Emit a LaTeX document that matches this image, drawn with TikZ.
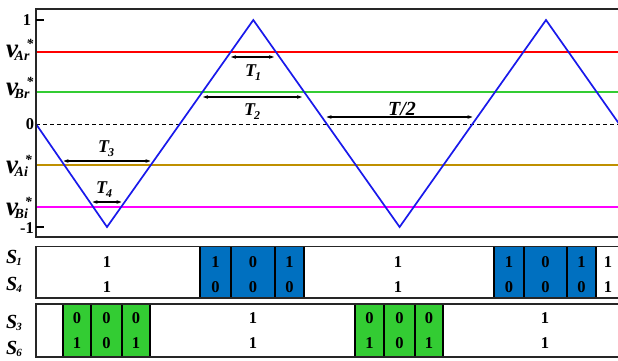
\documentclass[tikz,border=0pt]{standalone}
\usepackage{fontspec}
\setmainfont{Liberation Serif}
\usetikzlibrary{arrows.meta}

\definecolor{carrier}{RGB}{25,25,235}
\definecolor{refAr}{RGB}{255,0,0}
\definecolor{refBr}{RGB}{51,204,51}
\definecolor{refAi}{RGB}{191,144,0}
\definecolor{refBi}{RGB}{255,0,255}
\definecolor{cellblue}{RGB}{0,112,192}
\definecolor{cellgreen}{RGB}{51,204,51}

\newcommand{\vlab}[1]{{\fontsize{27}{27}\selectfont v}\kern-3.5pt\raisebox{-3pt}{\fontsize{14}{14}\selectfont #1}\kern-3pt\raisebox{8.5pt}{\fontsize{14}{14}\selectfont *}}
\newcommand{\slab}[1]{{\fontsize{20}{20}\selectfont S}\kern-1pt\raisebox{-2pt}{\fontsize{11}{11}\selectfont #1}}
\newcommand{\tlab}[1]{{\fontsize{18}{18}\selectfont T}\kern-1pt\raisebox{-4pt}{\fontsize{12}{12}\selectfont #1}}

\begin{document}
\begin{tikzpicture}[x=1pt,y=-1pt,
    lvl/.style={line width=1.7pt},
    dim/.style={{Stealth[length=5pt,width=3.6pt]}-{Stealth[length=5pt,width=3.6pt]},line width=1.1pt},
    digit/.style={inner sep=0pt,font=\fontsize{16.5}{16.5}\selectfont\bfseries},
    lab/.style={inner sep=0pt,anchor=base west,font=\bfseries\itshape},
    frame/.style={draw=black!85,line width=1.5pt},
    cellA/.style={draw=black,line width=1.1pt,fill=cellblue},
    cellB/.style={draw=black,line width=1.1pt,fill=cellgreen}]
    \clip (0,0) rectangle (618,361);
    \fill[white] (0,0) rectangle (618,361);
    % carrier and references
    \draw[lvl,refAr] (36,52) -- (622,52);
    \draw[lvl,refBr] (36,92) -- (622,92);
    \draw[lvl,refAi] (36,165) -- (622,165);
    \draw[lvl,refBi] (36,207) -- (622,207);
    \draw[line width=1pt,dash pattern=on 4pt off 3pt] (36,124) -- (622,124);
    \draw[lvl,carrier,line join=miter] (36,124) -- (107,227) -- (253.3,20) -- (399.6,227) -- (546,20) -- (619.2,124);
    \draw[frame] (36,9) rectangle (622,237);
    \draw[line width=1.3pt] (36,20) -- (44,20);
    \draw[line width=1.3pt] (36,227) -- (44,227);
    \node[digit] (ax1) at (27,20) {1};
    \node[digit] (ax0) at (30,124) {0};
    \node[digit,anchor=east] (axm1) at (34,228) {-1};
    \node[lab] (vAr) at (6,57) {\vlab{Ar}};
    \node[lab] (vBr) at (6,95) {\vlab{Br}};
    \node[lab] (vAi) at (6,173) {\vlab{Ai}};
    \node[lab] (vBi) at (6,215) {\vlab{Bi}};
    % time intervals
    \coordinate (t1a) at (231,57);
    \coordinate (t1b) at (274,57);
    \coordinate (t2a) at (203,97);
    \coordinate (t2b) at (302,97);
    \coordinate (t3a) at (63.5,161);
    \coordinate (t3b) at (150.5,161);
    \coordinate (t4a) at (92.5,202);
    \coordinate (t4b) at (121.5,202);
    \coordinate (tha) at (326.5,117);
    \coordinate (thb) at (472.5,117);
    \draw[dim] (t1a) -- (t1b);
    \draw[dim] (t2a) -- (t2b);
    \draw[dim] (t3a) -- (t3b);
    \draw[dim] (t4a) -- (t4b);
    \draw[dim] (tha) -- (thb);
    \node[lab] (T1) at (245,77) {\tlab{1}};
    \node[lab] (T2) at (244,115) {\tlab{2}};
    \node[lab] (T3) at (98,152) {\tlab{3}};
    \node[lab] (T4) at (96,193) {\tlab{4}};
    \node[lab,font=\fontsize{20}{20}\selectfont\bfseries\itshape] (Thalf) at (388,115) {T/2};
    % switching states
    \fill[white] (36,246.5) rectangle (622,298);
    \foreach \xa/\xb/\ra/\rb [count=\i] in {200/231/1/0,231/275/0/0,275/304/1/0,494/524/1/0,524/567/0/0,567/596/1/0}{
        \draw[cellA] (\xa,246.5) rectangle (\xb,298);
        \node[digit] (sa\i) at ({(\xa+\xb)/2},262) {\ra};
        \node[digit] (sb\i) at ({(\xa+\xb)/2},287) {\rb};
    }
    \foreach \xc [count=\i] in {107,398,608}{
        \node[digit] (wa\i) at (\xc,262) {1};
        \node[digit] (wb\i) at (\xc,287) {1};
    }
    \draw[frame] (36,246.5) rectangle (622,298);
    \foreach \xa/\xb/\ra/\rb [count=\i] in {63/91/0/1,91/122/0/0,122/150/0/1,355/384/0/1,384/415/0/0,415/443/0/1}{
        \draw[cellB] (\xa,304) rectangle (\xb,357);
        \node[digit] (sc\i) at ({(\xa+\xb)/2},318) {\ra};
        \node[digit] (sd\i) at ({(\xa+\xb)/2},343) {\rb};
    }
    \foreach \xc [count=\i] in {253,545}{
        \node[digit] (wc\i) at (\xc,318) {1};
        \node[digit] (wd\i) at (\xc,343) {1};
    }
    \draw[frame] (36,304) rectangle (622,357);
    \node[lab] (S1) at (6,263) {\slab{1}};
    \node[lab] (S4) at (6,290) {\slab{4}};
    \node[lab] (S3) at (6,328) {\slab{3}};
    \node[lab] (S6) at (6,354) {\slab{6}};
\end{tikzpicture}
\end{document}
